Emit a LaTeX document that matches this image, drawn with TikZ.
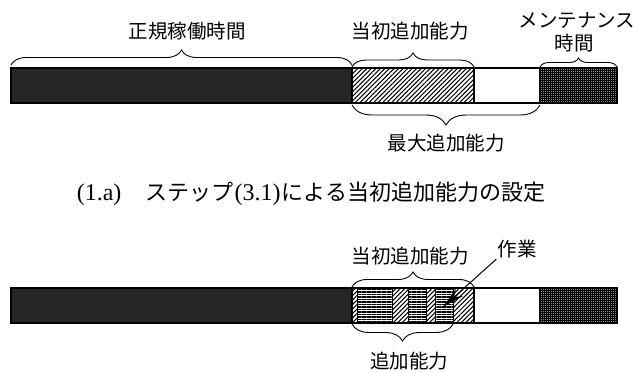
\documentclass[tikz,border=0pt]{standalone}
\usepackage{fontspec}
\newfontfamily\jp{Noto Sans CJK JP}
\newfontfamily\capserif{Liberation Serif}
\usetikzlibrary{patterns.meta,decorations.pathreplacing,arrows.meta}
\tikzset{
  barline/.style={draw=black,line width=1.4pt},
  darkseg/.style={fill=black!85},
  hatchseg/.style={pattern={Lines[angle=45,distance=3.2pt,line width=1.05pt]}},
  hlineseg/.style={pattern={Lines[angle=0,distance=2.5pt,line width=1.3pt]}},
  gridseg/.style={fill=black!45,postaction={pattern={Hatch[angle=0,distance=2pt,line width=0.9pt]}}},
  brc/.style={decorate,decoration={brace,amplitude=#1},line width=0.9pt},
  lbl/.style={font=\jp\fontsize{19.5}{21}\selectfont,inner sep=0pt},
  captext/.style={font=\capserif\fontsize{24}{27}\selectfont,inner sep=0pt},
  workarrow/.style={line width=1pt,-{Stealth[length=22pt,width=10pt]}},
}
\newcommand{\jpcap}[1]{{\jp\fontsize{22}{26}\selectfont #1}}
\begin{document}
\begin{tikzpicture}[x=1pt,y=1pt]
\useasboundingbox (0,0) rectangle (634,-372);
% ---------- top bar ----------
\path[darkseg]  (11,-68) rectangle (352,-103);
\path[hatchseg] (352,-68) rectangle (474,-103);
\path[gridseg]  (540,-68) rectangle (617,-103);
\draw[barline] (11,-68) rectangle (617,-103);
\draw[barline] (352,-68) -- (352,-103) (474,-68) -- (474,-103) (540,-68) -- (540,-103);
% braces
\draw[brc=15pt] (11,-65) -- (352,-65);
\draw[brc=14pt] (352,-67) -- (474,-67);
\draw[brc=9pt]  (540,-67) -- (617,-67);
\draw[brc=20pt] (540,-105) -- (352,-105);
% labels
\node[lbl] (seiki) at (187,-31) {正規稼働時間};
\node[lbl] (toushoA) at (410,-31) {当初追加能力};
\node[lbl] (maint) at (577,-20) {メンテナンス};
\node[lbl] (jikan) at (574,-43) {時間};
\node[lbl] (saidai) at (446,-143) {最大追加能力};
\node[captext] (caption) at (311,-194) {(1.a)\hspace{1em}\jpcap{ステップ}\hspace{0.05em}(3.1)\hspace{0.05em}\jpcap{による当初追加能力の設定}};
% ---------- bottom bar ----------
\path[darkseg]  (11,-288) rectangle (352,-323);
\path[hatchseg] (352,-288) rectangle (357,-323);
\path[hlineseg] (357,-288) rectangle (392,-323);
\path[hatchseg] (392,-288) rectangle (408,-323);
\path[hlineseg] (408,-288) rectangle (426,-323);
\path[hatchseg] (426,-288) rectangle (435,-323);
\path[hlineseg] (435,-288) rectangle (453,-323);
\path[hatchseg] (453,-288) rectangle (474,-323);
\path[gridseg]  (540,-288) rectangle (617,-323);
\draw[barline] (11,-288) rectangle (617,-323);
\draw[barline] (352,-288) -- (352,-323) (474,-288) -- (474,-323) (540,-288) -- (540,-323);
\draw[line width=0.8pt] (357,-288) -- (357,-323) (392,-288) -- (392,-323) (408,-288) -- (408,-323)
  (426,-288) -- (426,-323) (435,-288) -- (435,-323) (453,-288) -- (453,-323);
% braces
\draw[brc=15pt] (352,-287) -- (474,-287);
\draw[brc=17pt] (453,-324) -- (352,-324);
% labels
\node[lbl] (toushoB) at (410,-256) {当初追加能力};
\node[lbl] (sagyo) at (517,-249) {作業};
\node[lbl] (tsuika) at (409,-361) {追加能力};
\coordinate (worktip) at (443,-307);
\draw[workarrow] (sagyo.south west) ++(-1,-1) -- (worktip);
\end{tikzpicture}
\end{document}
